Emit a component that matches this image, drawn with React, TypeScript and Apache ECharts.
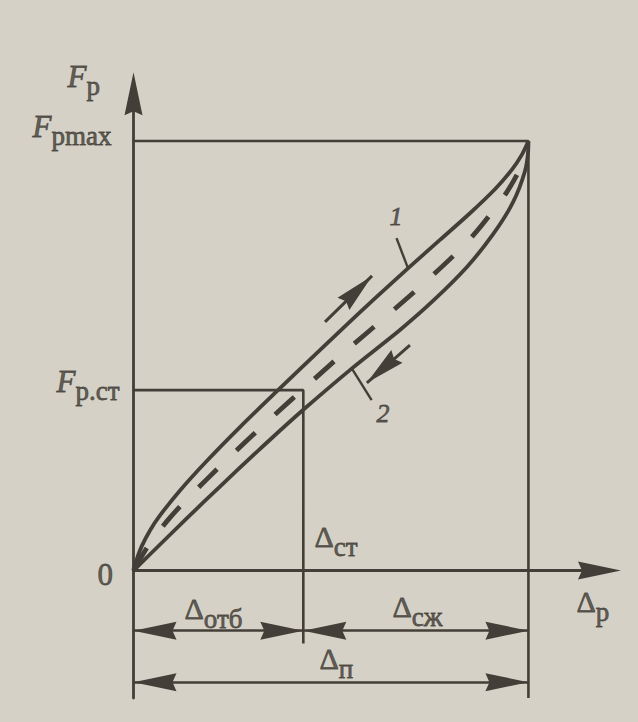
import { useEffect, useRef } from 'react';
import * as echarts from 'echarts';

// ---- diagram quantities (units: Δп = 100, Fр max = 100) ----
const DELTA_P = 100; // Δп
const DELTA_ST = 43; // Δст
const FP_MAX = 100; // Fр max
const FP_ST = 42; // Fр.ст
const X_MAX = 118;
const Y_MIN = -29.7;
const Y_MAX = 111;
const DIM_ROW_PARTS = -14; // Δотб / Δсж dimension line
const DIM_ROW_TOTAL = -26; // Δп dimension line
const ST_DROP_END = -17; // end of the Δст extension line

// curve 1 — loading branch (upper)
const curveLoading: number[][] = [
  [0, 0], [0.886, 2.771], [2.152, 5.797], [4.177, 9.336], [6.709, 12.829], [11.772, 18.65],
  [18.608, 25.565], [26.962, 33.411], [36.329, 41.769], [42.152, 46.915], [52.278, 55.763],
  [61.139, 63.353], [69.494, 70.337], [77.595, 76.973], [85.19, 83.19], [91.519, 88.778],
  [95.823, 93.341], [98.354, 96.834], [100, 100],
];
// curve 2 — unloading branch (lower)
const curveUnloading: number[][] = [
  [0, 0], [9.241, 8.335], [17.595, 15.786], [26.203, 23.306], [34.557, 30.454],
  [42.911, 37.369], [55.316, 47.078], [67.468, 56.019], [75.823, 62.771], [84.43, 70.687],
  [91.013, 78.254], [96.076, 85.704], [99.114, 92.968], [99.949, 97.905], [100, 100],
];
// mean (dashed) characteristic
const curveMean: number[][] = [
  [0, 0], [4.177, 6.403], [8.481, 11.502], [13.038, 16.158], [18.608, 21.281],
  [23.671, 25.844], [28.987, 30.5], [34.051, 34.831], [40.127, 39.907], [45.19, 44.098],
  [53.291, 50.733], [64.43, 59.534], [75.063, 68.149], [85.19, 77.183], [94.051, 87.451],
  [97.089, 92.107],
];
const arrowLoading: number[][] = [[48.5, 57.9], [60.4, 68.6]];
const arrowUnloading: number[][] = [[70.0, 52.5], [59.1, 43.7]];
const leader1: number[][] = [[66.6, 77.4], [69.5, 70.4]];
const leader2: number[][] = [[55.3, 47.0], [60.3, 39.7]];

// texts and their anchors (glyph top-left, in diagram units)
const labelTexts = [
  '{f|F}{s|р}',
  '{f|F}{s|рmax}',
  '{f|F}{s|р.ст}',
  '{n|0}',
  '{d|Δ}{s|ст}',
  '{d|Δ}{s|отб}',
  '{d|Δ}{s|сж}',
  '{d|Δ}{s|п}',
  '{d|Δ}{s|р}',
  '{i|1}',
  '{i|2}',
];
const labelAnchors: number[][] = [
  [-16.58, 117.23],
  [-25.44, 105.59],
  [-19.37, 46.22],
  [-8.99, 1.28],
  [45.95, 9.9],
  [13.04, -6.87],
  [65.7, -6.4],
  [47.22, -18.51],
  [112.28, -5.24],
  [64.94, 83.94],
  [61.65, 38.07],
];

const INK = '#433e37';
const PAPER = '#d5d1c7';
const SERIF = '"Liberation Serif", "DejaVu Serif", serif';
const ARROW = 'path://M9,0L18,43L9,39L0,43Z';

export default function App() {
  const ref = useRef<HTMLDivElement>(null);
  useEffect(() => {
    if (!ref.current) return;
    const chart = echarts.init(ref.current, undefined, { renderer: 'svg' });
    const lineBase = {
      type: 'line' as const,
      symbol: 'none',
      showSymbol: false,
      silent: true,
      animation: false,
      emphasis: { disabled: true },
    };
    const txt = { fontFamily: SERIF, color: INK, textBorderColor: INK, textBorderWidth: 0.8, verticalAlign: 'top' };
    chart.setOption({
      animation: false,
      backgroundColor: PAPER,
      grid: { left: 133.5, top: 93.8, width: 466, height: 604.3 },
      xAxis: {
        type: 'value',
        min: 0,
        max: X_MAX,
        axisLine: {
          onZero: true,
          lineStyle: { color: INK, width: 2.8 },
          symbol: ['none', ARROW],
          symbolSize: [19, 43],
        },
        axisTick: { show: false },
        axisLabel: { show: false },
        splitLine: { show: false },
      },
      yAxis: {
        type: 'value',
        min: Y_MIN,
        max: Y_MAX,
        axisLine: {
          onZero: false,
          lineStyle: { color: INK, width: 2.8 },
          symbol: ['none', ARROW],
          symbolSize: [19, 43],
        },
        axisTick: { show: false },
        axisLabel: { show: false },
        splitLine: { show: false },
      },
      series: [
        {
          ...lineBase,
          name: 'frame',
          data: [[0, FP_MAX], [DELTA_P, FP_MAX], [DELTA_P, Y_MIN]],
          lineStyle: { color: INK, width: 2.6 },
          markLine: {
            silent: true,
            animation: false,
            symbol: [ARROW, ARROW],
            symbolSize: [18, 43],
            symbolOffset: [[0, '50%'], [0, '50%']],
            label: { show: false },
            emphasis: { disabled: true },
            itemStyle: { color: INK },
            lineStyle: { color: INK, width: 2.6, type: 'solid' },
            data: [
              [{ coord: [0, DIM_ROW_PARTS] }, { coord: [DELTA_ST, DIM_ROW_PARTS] }],
              [{ coord: [DELTA_ST, DIM_ROW_PARTS] }, { coord: [DELTA_P, DIM_ROW_PARTS] }],
              [{ coord: [0, DIM_ROW_TOTAL] }, { coord: [DELTA_P, DIM_ROW_TOTAL] }],
            ],
          },
        },
        {
          ...lineBase,
          name: 'static',
          data: [[0, FP_ST], [DELTA_ST, FP_ST], [DELTA_ST, ST_DROP_END]],
          lineStyle: { color: INK, width: 2.6 },
        },
        {
          ...lineBase,
          name: '1',
          smooth: 0.3,
          data: curveLoading,
          lineStyle: { color: INK, width: 3.8 },
        },
        {
          ...lineBase,
          name: '2',
          smooth: 0.3,
          data: curveUnloading,
          lineStyle: { color: INK, width: 3.8 },
        },
        {
          ...lineBase,
          name: 'mean',
          smooth: 0.3,
          data: curveMean,
          lineStyle: { color: INK, width: 4.8, type: [26, 27], cap: 'butt' },
        },
        {
          ...lineBase,
          name: 'leader1',
          data: leader1,
          lineStyle: { color: INK, width: 2.4 },
        },
        {
          ...lineBase,
          name: 'leader2',
          data: leader2,
          lineStyle: { color: INK, width: 2.4 },
          markLine: {
            silent: true,
            animation: false,
            symbol: ['none', ARROW],
            symbolSize: [17, 40],
            symbolOffset: [[0, 0], [0, '50%']],
            label: { show: false },
            emphasis: { disabled: true },
            itemStyle: { color: INK },
            lineStyle: { color: INK, width: 3, type: 'solid' },
            data: [
              [{ coord: arrowLoading[0] }, { coord: arrowLoading[1] }],
              [{ coord: arrowUnloading[0] }, { coord: arrowUnloading[1] }],
            ],
          },
        },
        {
          type: 'scatter',
          name: 'labels',
          silent: true,
          clip: false,
          animation: false,
          symbol: 'circle',
          symbolSize: 1,
          itemStyle: { color: 'rgba(0,0,0,0)' },
          emphasis: { disabled: true },
          data: labelAnchors.map((p, i) => ({ value: p, label: { formatter: labelTexts[i] } })),
          label: {
            show: true,
            position: [0, -6],
            align: 'left',
            verticalAlign: 'top',
            rich: {
              f: { ...txt, fontStyle: 'italic', fontSize: 31 },
              d: { ...txt, fontSize: 30 },
              n: { ...txt, fontSize: 31 },
              i: { ...txt, fontStyle: 'italic', fontSize: 26 },
              s: { ...txt, fontSize: 27, padding: [12, 0, 0, 0] },
            },
          },
        },
      ],
    });
    return () => chart.dispose();
  }, []);
  return (
    <div
      ref={ref}
      style={{ position: 'absolute', left: 0, top: 0, width: 638, height: 722, background: PAPER }}
    />
  );
}
